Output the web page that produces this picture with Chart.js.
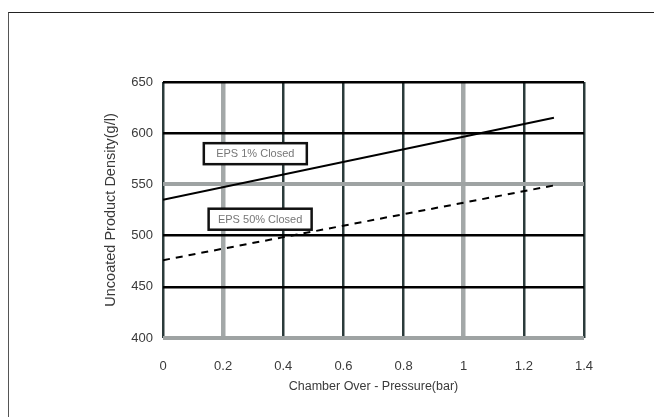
<!DOCTYPE html>
<html>
<head>
<meta charset="utf-8">
<script src="https://cdn.jsdelivr.net/npm/chart.js@4"></script>
<style>
  html, body { margin: 0; padding: 0; background: #fff; overflow: hidden; }
  #wrap { position: relative; width: 654px; height: 417px; }
  #frame {
    position: absolute; left: 8px; top: 12px; width: 660px; height: 420px;
    border-top: 1.5px solid #222; border-left: 1.5px solid #555;
  }
</style>
</head>
<body>
<div id="wrap">
  <div id="frame"></div>
  <canvas id="chart" width="654" height="417"></canvas>
</div>
<script>
// Data
const pressure = [0, 1.3];
const densityOnePct = [535, 615];
const densityFiftyPct = [476, 549];
const xTicks = [0, 0.2, 0.4, 0.6, 0.8, 1, 1.2, 1.4];
const yTicks = [400, 450, 500, 550, 600, 650];
const seriesLabels = ["EPS 1% Closed", "EPS 50% Closed"];

const grayX = [0.2, 1];
const grayY = [550, 400];

const toPoints = (ys) => pressure.map((x, i) => ({ x: x, y: ys[i] }));

// boxed labels on the plot (data coordinates)
const boxLabels = [
  { text: seriesLabels[0], x: 0.307, y: 580 },
  { text: seriesLabels[1], x: 0.323, y: 516 },
];

const boxLabelPlugin = {
  id: "boxLabels",
  afterDatasetsDraw(chart) {
    const { ctx, scales } = chart;
    ctx.save();
    ctx.font = "11px 'Liberation Sans', Arial, sans-serif";
    ctx.textAlign = "center";
    ctx.textBaseline = "middle";
    for (const b of boxLabels) {
      const cx = scales.x.getPixelForValue(b.x);
      const cy = scales.y.getPixelForValue(b.y);
      const w = 103, h = 21;
      ctx.fillStyle = "#fff";
      ctx.fillRect(cx - w / 2, cy - h / 2, w, h);
      ctx.lineWidth = 2.5;
      ctx.strokeStyle = "#111";
      ctx.strokeRect(cx - w / 2, cy - h / 2, w, h);
      ctx.fillStyle = "#777";
      ctx.fillText(b.text, cx, cy + 0.5);
    }
    ctx.restore();
  },
};

const tickFont = { family: "'Liberation Sans', Arial, sans-serif", size: 13 };
const textColor = "#3a3a3a";

new Chart(document.getElementById("chart"), {
  type: "scatter",
  data: {
    datasets: [
      {
        label: seriesLabels[0],
        data: toPoints(densityOnePct),
        showLine: true,
        borderColor: "#000",
        borderWidth: 2,
        pointRadius: 0,
      },
      {
        label: seriesLabels[1],
        data: toPoints(densityFiftyPct),
        showLine: true,
        borderColor: "#000",
        borderWidth: 2,
        borderDash: [7, 6],
        pointRadius: 0,
      },
    ],
  },
  options: {
    responsive: false,
    animation: false,
    layout: { padding: { left: 95, right: 70, top: 82, bottom: 0 } },
    plugins: { legend: { display: false }, tooltip: { enabled: false } },
    scales: {
      x: {
        type: "linear",
        min: 0,
        max: 1.4,
        afterBuildTicks: (axis) => { axis.ticks = xTicks.map((v) => ({ value: v })); },
        afterFit: (axis) => { axis.height = 79; },
        border: { display: false },
        grid: {
          drawTicks: false,
          color: (c) => (grayX.includes(c.tick.value) ? "#a3a8a8" : "#2b3b3b"),
          lineWidth: (c) => (grayX.includes(c.tick.value) ? 4.5 : 2.5),
        },
        ticks: {
          padding: 21,
          color: textColor,
          font: tickFont,
          callback: (v) => String(v),
        },
        title: {
          display: true,
          text: "Chamber Over - Pressure(bar)",
          color: textColor,
          font: { family: tickFont.family, size: 12.5 },
          padding: { top: 0, bottom: 23 },
        },
      },
      y: {
        min: 400,
        max: 650,
        afterBuildTicks: (axis) => { axis.ticks = yTicks.map((v) => ({ value: v })); },
        afterFit: (axis) => { axis.width = 68; },
        border: { display: false },
        grid: {
          drawTicks: false,
          color: (c) => (grayY.includes(c.tick.value) ? "#9ea3a3" : "#000"),
          lineWidth: (c) => (grayY.includes(c.tick.value) ? 4 : 2.5),
        },
        ticks: {
          padding: 10,
          color: textColor,
          font: tickFont,
        },
        title: {
          display: true,
          text: "Uncoated Product Density(g/l)",
          color: textColor,
          font: { family: tickFont.family, size: 14.5 },
          padding: { top: 7, bottom: 0 },
        },
      },
    },
  },
  plugins: [boxLabelPlugin],
});
</script>
</body>
</html>
